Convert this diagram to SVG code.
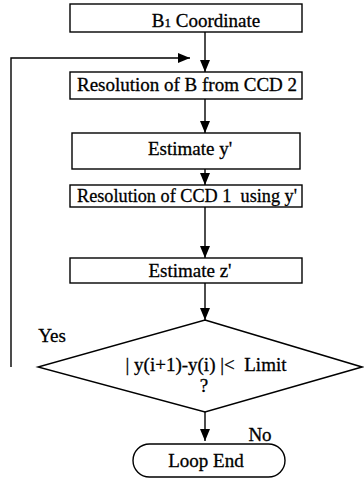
<svg xmlns="http://www.w3.org/2000/svg" width="364" height="481" viewBox="0 0 364 481">
  <defs>
    <marker id="arr" viewBox="0 0 12 10" refX="12" refY="5" markerWidth="12" markerHeight="10" markerUnits="userSpaceOnUse" orient="auto">
      <path d="M0,0 L12,5 L0,10 Z" fill="#000"/>
    </marker>
  </defs>
  <style>
    .box { fill: #fff; stroke: #000; stroke-width: 1.4; }
    .lbl { font-family: "Liberation Serif", "Times New Roman", serif; font-size: 19px; fill: #000; stroke: #000; stroke-width: 0.3; text-anchor: middle; }
    .edge { fill: none; stroke: #000; stroke-width: 1.4; }
  </style>
  <rect width="364" height="481" fill="#fff"/>
  <g id="connectors">
    <path class="edge" d="M205,32 V72" marker-end="url(#arr)"/>
    <path class="edge" d="M11,367 V58 H190" marker-end="url(#arr)"/>
    <path class="edge" d="M205,99 V133" marker-end="url(#arr)"/>
    <path class="edge" d="M205,169 V185" marker-end="url(#arr)"/>
    <path class="edge" d="M205,207 V258" marker-end="url(#arr)"/>
    <path class="edge" d="M205,283 V320" marker-end="url(#arr)"/>
    <path class="edge" d="M205,412 V441" marker-end="url(#arr)"/>
  </g>
  <g id="b1">
    <rect class="box" x="70" y="4" width="232" height="28"/>
    <text class="lbl" x="206" y="27">B<tspan font-size="13">1</tspan>  Coordinate</text>
  </g>
  <g id="resB">
    <rect class="box" x="70" y="72" width="232" height="27"/>
    <text class="lbl" x="187" y="91">Resolution of B from CCD 2</text>
  </g>
  <g id="esty">
    <rect class="box" x="72" y="133" width="228" height="36"/>
    <text class="lbl" x="190" y="155">Estimate y'</text>
  </g>
  <g id="resCCD1">
    <rect class="box" x="70" y="185" width="232" height="22"/>
    <text class="lbl" x="187" y="202" xml:space="preserve" textLength="220" lengthAdjust="spacingAndGlyphs">Resolution of CCD 1  using y'</text>
  </g>
  <g id="estz">
    <rect class="box" x="70" y="258" width="232" height="25"/>
    <text class="lbl" x="190" y="277">Estimate z'</text>
  </g>
  <g id="decision">
    <polygon class="box" points="205,320 362,367 205,412 38,367"/>
    <text class="lbl" x="206" y="371" xml:space="preserve">| y(i+1)-y(i) |&lt;  Limit</text>
    <text class="lbl" x="204" y="392">?</text>
  </g>
  <text class="lbl" x="52" y="342">Yes</text>
  <text class="lbl" x="260" y="441">No</text>
  <g id="end">
    <rect class="box" x="133" y="444" width="152" height="33" rx="16.5" ry="16.5"/>
    <text class="lbl" x="206" y="467">Loop End</text>
  </g>
</svg>
